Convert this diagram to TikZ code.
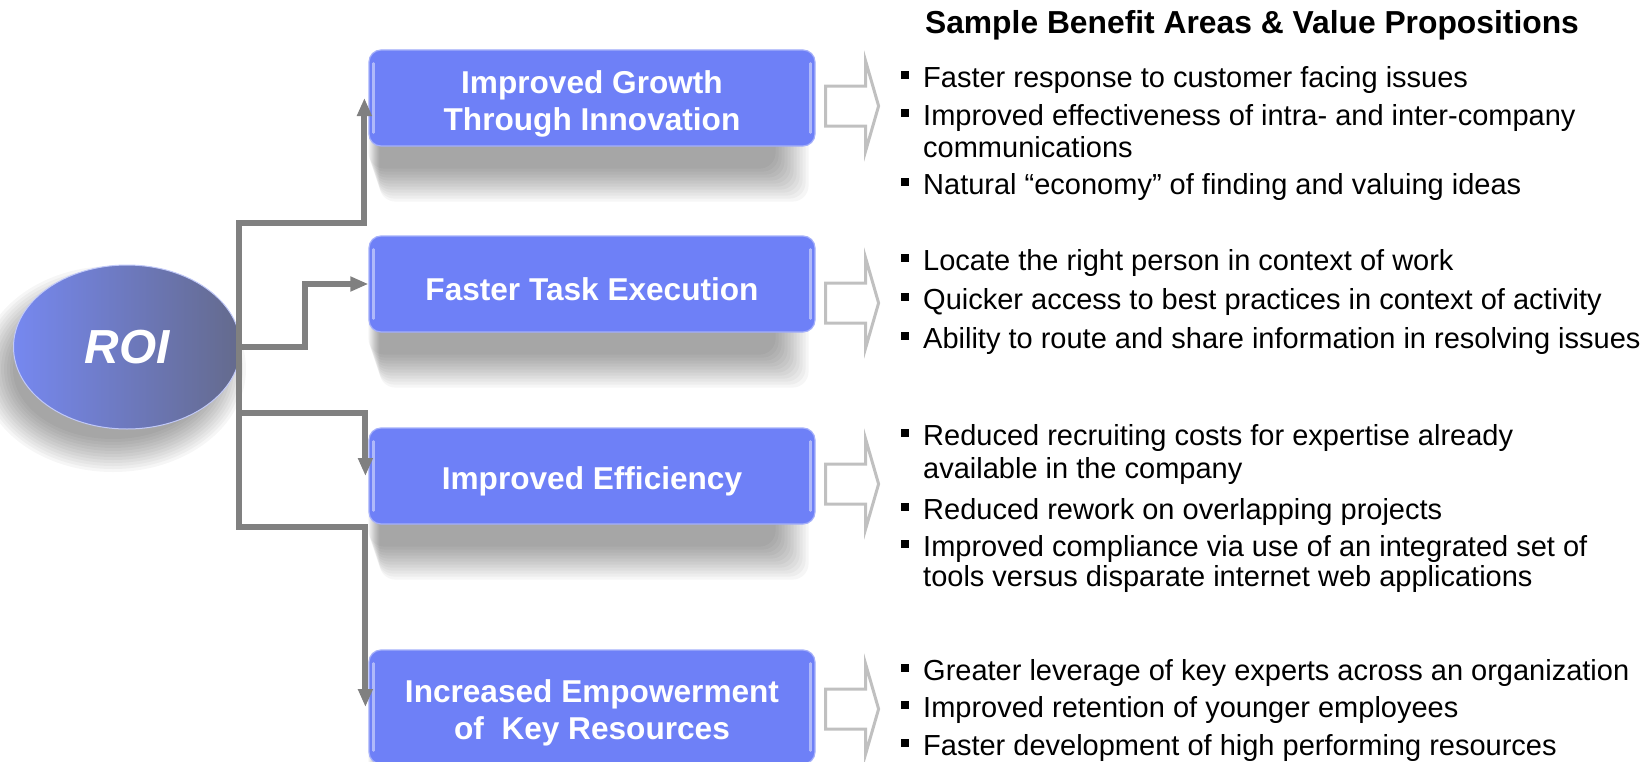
\documentclass[tikz,border=0pt]{standalone}
\usepackage{fontspec}
\setmainfont{Liberation Sans}
\usetikzlibrary{arrows.meta, positioning, calc, backgrounds, shapes.geometric}
\definecolor{boxblue}{RGB}{110,128,247}
\definecolor{boxrim}{RGB}{165,176,250}
\definecolor{roitop}{RGB}{118,136,240}
\definecolor{roibot}{RGB}{100,106,140}
\definecolor{connline}{RGB}{128,128,128}
\definecolor{hollowgray}{RGB}{192,192,192}
\newcommand{\sqb}{\makebox[22bp][l]{\rule[8bp]{8bp}{8bp}}}
\newcommand{\lift}{\rule{0pt}{34bp}}
\tikzset{>={Triangle[length=18bp,width=14bp]}}

\begin{document}
\begin{tikzpicture}[x=1bp, y=-1bp,
	benefit/.style={draw=boxrim, line width=1.2bp, fill=boxblue, rounded corners=12bp, minimum width=446bp, minimum height=96bp, text=white, align=center, font=\bfseries\fontsize{31.6bp}{37bp}\selectfont},
	roinode/.style={ellipse, minimum width=227bp, minimum height=164bp, left color=roitop, right color=roibot, draw=white!55!roitop, line width=1bp, text=white, font=\bfseries\itshape\fontsize{47.8bp}{50bp}\selectfont},
	conn/.style={draw=connline, line width=6bp},
	hollow/.style={draw=hollowgray, line width=3bp},
	gloss/.style={white, opacity=0.45, line width=2.5bp, line cap=round},
	item/.style={anchor=base west, inner sep=0pt, font=\fontsize{29bp}{32bp}\selectfont},
	heading/.style={anchor=base, inner sep=0pt, font=\bfseries\fontsize{31.8bp}{36bp}\selectfont}]
	
	\useasboundingbox (0,0) rectangle (1651,762);
	
	\node [roinode] (roi) at (127,347) {ROI};
	\node [benefit] (growth) at (592,98) {\lift Improved Growth\\Through Innovation};
	\node [benefit] (task) at (592,284) {\lift Faster Task Execution};
	\node [benefit] (effic) at (592,476) {\lift Improved Efficiency};
	\node [benefit, minimum height=114bp] (empow) at (592,707) {\lift Increased Empowerment\\of\ \ Key Resources};
	
	% glassy edges
	\foreach \b in {growth,task,effic,empow} {
		\draw [gloss] ([xshift=5bp,yshift=-14bp]\b.north west) -- ([xshift=5bp,yshift=14bp]\b.south west);
		\draw [gloss] ([xshift=-5bp,yshift=-14bp]\b.north east) -- ([xshift=-5bp,yshift=14bp]\b.south east);
	}
	
	% soft shadows
	\begin{scope}[on background layer]
		\foreach \b in {growth,task,effic,empow}
			\foreach \i [evaluate=\i as \lx using -10-3*\i, evaluate=\i as \ly using 22+3*\i,
			             evaluate=\i as \rx using -40+3*\i, evaluate=\i as \ry using 38-3*\i] in {0,...,11}
				\fill [black, opacity=0.035, rounded corners=16bp] ($(\b.south west)+(\lx,\ly)$) rectangle ($(\b.north east)+(\rx,\ry)$);
		\foreach \i [evaluate=\i as \e using 3*\i] in {0,...,11}
			\fill [black, opacity=0.035] ($(roi.center)+(-14,22)$) ellipse [x radius=100+\e, y radius=70+\e];
	\end{scope}
	
	% connectors
	\coordinate (trunktop) at (239,223);
	\coordinate (trunkbot) at (239,527);
	\coordinate (fork) at (239,413);
	\draw [conn,<->] ([xshift=-3bp]empow.west) |- (trunkbot) -- (trunktop) -| ([xshift=-4bp]growth.west);
	\draw [conn,->] (fork) -| ([xshift=-3bp]effic.west);
	\draw [conn,->] (roi.east) -- ++(64,0) |- (task.west);
	
	% hollow arrows
	\foreach \b/\dy in {growth/-12,task/-1,effic/-12,empow/-18}
		\draw [hollow] ($(\b.east)+(10,\dy)$) -- ++(40,0) -- ++(0,-25) -- ++(13,45) -- ++(-13,45) -- ++(0,-25) -- ++(-40,0) -- cycle;
	
	\node [heading] (title) at (1252,34) {Sample Benefit Areas \& Value Propositions};
	
	\node [item] (g1a) at (901,87) {\sqb Faster response to customer facing issues};
	\node [item] (g1b) at (901,125) {\sqb Improved effectiveness of intra- and inter-company};
	\node [item] (g1c) at (923,157) {communications};
	\node [item] (g1d) at (901,194) {\sqb Natural “economy” of finding and valuing ideas};
	
	\node [item] (g2a) at (901,270) {\sqb Locate the right person in context of work};
	\node [item] (g2b) at (901,309) {\sqb Quicker access to best practices in context of activity};
	\node [item] (g2c) at (901,348) {\sqb Ability to route and share information in resolving issues};
	
	\node [item] (g3a) at (901,445) {\sqb Reduced recruiting costs for expertise already};
	\node [item] (g3b) at (923,478) {available in the company};
	\node [item] (g3c) at (901,519) {\sqb Reduced rework on overlapping projects};
	\node [item] (g3d) at (901,556) {\sqb Improved compliance via use of an integrated set of};
	\node [item] (g3e) at (923,586) {tools versus disparate internet web applications};
	
	\node [item] (g4a) at (901,680) {\sqb Greater leverage of key experts across an organization};
	\node [item] (g4b) at (901,717) {\sqb Improved retention of younger employees};
	\node [item] (g4c) at (901,755) {\sqb Faster development of high performing resources};
\end{tikzpicture}
\end{document}
